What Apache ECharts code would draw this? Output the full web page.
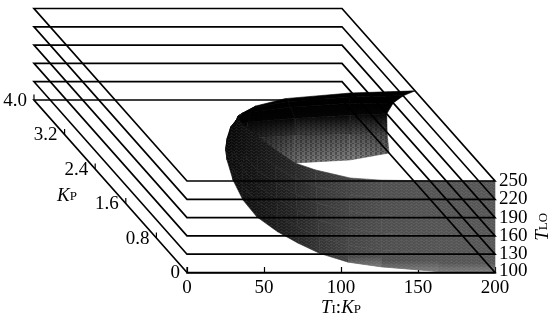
<!DOCTYPE html>
<html>
<head>
<meta charset="utf-8">
<style>html,body{margin:0;padding:0;background:#fff}#main{width:550px;height:318px}</style>
<script src="https://cdn.jsdelivr.net/npm/echarts@6/dist/echarts.min.js"></script>
</head>
<body>
<div id="main"></div>
<script>
var tloLevels = [100, 130, 160, 190, 220, 250];
var kpTicks = [0, 0.8, 1.6, 2.4, 3.2, 4.0];
var kpTickLabels = ['0', '0.8', '1.6', '2.4', '3.2', '4.0'];

// boundary, one arc per T_LO level
var ti100 = [200, 164.9, 129.8, 110.6, 97.3, 89.1, 82.4, 77.4, 78.1, 83.1, 90.8, 97, 105.9, 133.2, 170.6, 200];
var kp100 = [0, 0.02, 0.13, 0.24, 0.44, 0.68, 0.94, 1.29, 1.68, 2.14, 2.61, 2.89, 2.75, 2.54, 2.61, 2.77];
var ti130 = [200, 164.7, 129, 110.2, 95.6, 87.7, 81.1, 76.1, 75.6, 80, 85.3, 92.9, 104.6, 138.8, 175.1, 200];
var kp130 = [0, 0.02, 0.10, 0.21, 0.40, 0.63, 0.89, 1.23, 1.60, 2.05, 2.42, 2.69, 2.69, 2.76, 2.79, 2.82];
var ti160 = [200, 164.5, 128.3, 109.7, 94.2, 86.4, 79.7, 74.7, 74.8, 79.4, 84.8, 91.3, 105.2, 138, 175.5, 200];
var kp160 = [0, 0.01, 0.07, 0.18, 0.37, 0.60, 0.86, 1.18, 1.57, 1.99, 2.32, 2.53, 2.64, 2.73, 2.80, 2.83];
var ti190 = [200, 164.3, 127.2, 109, 92.8, 84.4, 77.7, 72.9, 73.1, 76.5, 81.5, 88.1, 102.4, 130.6, 171.6, 200];
var kp190 = [0, 0, 0.05, 0.15, 0.34, 0.55, 0.80, 1.10, 1.45, 1.80, 2.08, 2.26, 2.45, 2.56, 2.65, 2.66];
var ti220 = [200, 164.3, 126.8, 108.6, 91.2, 82.4, 76.3, 72.1, 71.9, 73.8, 75.8, 81.1, 95.5, 121.6, 164.7, 200];
var kp220 = [0, 0, 0.03, 0.11, 0.30, 0.49, 0.77, 1.07, 1.35, 1.58, 1.77, 1.93, 2.12, 2.26, 2.37, 2.40];
var ti250 = [200, 164.3, 126.6, 107.6, 89.5, 80.5, 75, 71.4, 70.1, 68.6, 69.5, 75.5, 88, 111.2, 156.6, 200];
var kp250 = [0, 0, 0.02, 0.07, 0.26, 0.42, 0.72, 1.02, 1.23, 1.32, 1.44, 1.58, 1.74, 1.91, 2.04, 2.09];

var tiArcs = [ti100, ti130, ti160, ti190, ti220, ti250];
var kpArcs = [kp100, kp130, kp160, kp190, kp220, kp250];

// oblique view: one unit of Kp moves the point left and up on the cartesian axes
var kpToX = 24.84;
var kpToY = 70.7;
function project(ti, kp, tlo) {
    return [ti - kp * kpToX, tlo + kp * kpToY];
}

var font = 'Liberation Serif';
var nameRich = {
    i: {fontFamily: font, fontSize: 19, fontStyle: 'italic', color: '#000', padding: [0, 0, 3, 0]},
    r: {fontFamily: font, fontSize: 19, color: '#000', padding: [0, 0, 3, 0]},
    s: {fontFamily: font, fontSize: 13, color: '#000'}
};

// grey of the dense wire mesh
var backGrey = [132, 78, 6, 0, 0, 0];
var backDark = {11: 0.9, 12: 0.65, 13: 0.15, 14: 0, 15: 0.15};
var frontGrey = [86, 84, 78, 68, 52, 38, 28, 20, 16, 12, 8, 6];
function hex(v) {
    v = Math.max(0, Math.round(v));
    return 'rgb(' + v + ',' + v + ',' + v + ')';
}

// small repeating stipple standing in for the moire of the wires
function hatch(w, h, cells, color) {
    var c = document.createElement('canvas');
    c.width = w;
    c.height = h;
    var g = c.getContext('2d');
    g.fillStyle = color;
    for (var k = 0; k < cells.length; k++) g.fillRect(cells[k][0], cells[k][1], cells[k][2], cells[k][3]);
    return {image: c, repeat: 'repeat'};
}
var backHatch = hatch(5, 4, [[0, 0, 2, 3], [2, 3, 2, 1]], 'rgba(0,0,0,0.3)');
var frontHatch = hatch(5, 3, [[0, 0, 3, 1], [3, 1, 2, 1], [1, 2, 1, 1]], 'rgba(255,255,255,0.07)');

var facets = [];
for (var j = 11; j < 15; j++) {
    for (var i = 0; i < 5; i++) facets.push([i, j, 1]);
}
for (var j = 10; j >= 0; j--) {
    for (var i = 4; i >= 0; i--) facets.push([i, j, 0]);
}

function renderFacet(params, api) {
    var f = facets[params.dataIndex];
    var i = f[0], j = f[1];
    function pt(a, b) {
        return api.coord(project(tiArcs[a][b], kpArcs[a][b], tloLevels[a]));
    }
    var pts = [pt(i, j), pt(i, j + 1), pt(i + 1, j + 1), pt(i + 1, j)];
    var kids = [];
    if (f[2]) {
        var low = backGrey[i], high = backGrey[i + 1];
        kids.push({type: 'polygon', shape: {points: pts}, style: {
            fill: new echarts.graphic.LinearGradient(0, 0, 0, 1, [
                {offset: 0, color: hex(high)}, {offset: 1, color: hex(low)}
            ]),
            stroke: hex((low + high) / 2), lineWidth: 0.6
        }});
        kids.push({type: 'polygon', shape: {points: pts}, style: {fill: backHatch}});
        kids.push({type: 'polygon', shape: {points: pts}, style: {
            fill: new echarts.graphic.LinearGradient(0, 0, 1, 0, [
                {offset: 0, color: 'rgba(0,0,0,' + backDark[j] + ')'},
                {offset: 1, color: 'rgba(0,0,0,' + backDark[j + 1] + ')'}
            ])
        }});
    } else {
        // arc runs right to left on the page for these facets
        kids.push({type: 'polygon', shape: {points: pts}, style: {
            fill: new echarts.graphic.LinearGradient(0, 0, 1, 0, [
                {offset: 0, color: hex(frontGrey[j + 1])}, {offset: 1, color: hex(frontGrey[j])}
            ]),
            stroke: hex((frontGrey[j] + frontGrey[j + 1]) / 2), lineWidth: 0.6
        }});
        kids.push({type: 'polygon', shape: {points: pts}, style: {fill: frontHatch}});
        if (i == 0 && j < 3) {
            kids.push({type: 'polygon', shape: {points: pts}, style: {
                fill: new echarts.graphic.LinearGradient(0, 0, 0, 1, [
                    {offset: 0.5, color: 'rgba(255,255,255,0)'}, {offset: 1, color: 'rgba(255,255,255,0.25)'}
                ])
            }});
        }
    }
    return {type: 'group', children: kids};
}

function renderPlane(params, api) {
    var tlo = api.value(0);
    var corners = [[0, 0], [200, 0], [200, 4], [0, 4]];
    var end = api.coord(project(200, 0, tlo));
    return {
        type: 'group',
        children: [
            {
                type: 'polygon',
                shape: {points: corners.map(function (c) { return api.coord(project(c[0], c[1], tlo)); })},
                style: {fill: null, stroke: '#000', lineWidth: 1.7}
            },
            {type: 'text', x: end[0] + 4, y: end[1] + (tlo == tloLevels[0] ? -1 : 0), style: {
                text: String(tlo), fontFamily: font, fontSize: 19, fill: '#000',
                align: 'left', verticalAlign: 'middle'
            }}
        ]
    };
}

function renderKpTick(params, api) {
    var p = api.coord(project(0, api.value(0), tloLevels[0]));
    return {
        type: 'group',
        children: [
            {type: 'line', shape: {x1: p[0], y1: p[1], x2: p[0], y2: p[1] - 5.5}, style: {stroke: '#000', lineWidth: 1.2}},
            {type: 'text', x: p[0] - 7, y: p[1] + 1, style: {
                text: kpTickLabels[params.dataIndex], fontFamily: font, fontSize: 19, fill: '#000',
                align: 'right', verticalAlign: 'middle'
            }}
        ]
    };
}

var option = {
    animation: false,
    backgroundColor: '#fff',
    grid: {left: 187, right: 55, top: 181, bottom: 45.5, containLabel: false, outerBoundsMode: 'none'},
    xAxis: {
        type: 'value', min: 0, max: 200, interval: 50,
        splitLine: {show: false},
        axisLine: {lineStyle: {color: '#000', width: 1.7}},
        axisTick: {inside: true, length: 5.5, lineStyle: {color: '#000', width: 1.2}},
        axisLabel: {fontFamily: font, fontSize: 19, color: '#000', margin: 6},
        name: '{i|T}{s|I}{r|:}{i|K}{s|P}',
        nameLocation: 'middle', nameGap: 25,
        nameTextStyle: {rich: nameRich}
    },
    yAxis: {
        type: 'value', min: 100, max: 250, position: 'right',
        splitLine: {show: false},
        axisLine: {show: false},
        axisTick: {show: false},
        axisLabel: {show: false},
        name: '{i|T}{s|LO}',
        nameLocation: 'middle', nameGap: 38, nameRotate: 90, nameMoveOverlap: false,
        nameTextStyle: {rich: nameRich}
    },
    graphic: [{
        type: 'text', x: 57, y: 186,
        style: {text: '{i|K}{s|P}', rich: nameRich}
    }],
    series: [{
        type: 'custom', z: 1, clip: false, silent: true,
        renderItem: renderFacet,
        encode: {x: 0, y: 1},
        data: facets
    }, {
        type: 'custom', z: 3, clip: false, silent: true,
        renderItem: renderPlane,
        encode: {y: 0},
        data: tloLevels.map(function (t) { return [t]; })
    }, {
        type: 'custom', z: 4, clip: false, silent: true,
        renderItem: renderKpTick,
        encode: {x: 0},
        data: kpTicks.map(function (k) { return [k]; })
    }]
};

var myChart = echarts.init(document.getElementById('main'), null, {renderer: 'canvas'});
myChart.setOption(option);
</script>
</body>
</html>
